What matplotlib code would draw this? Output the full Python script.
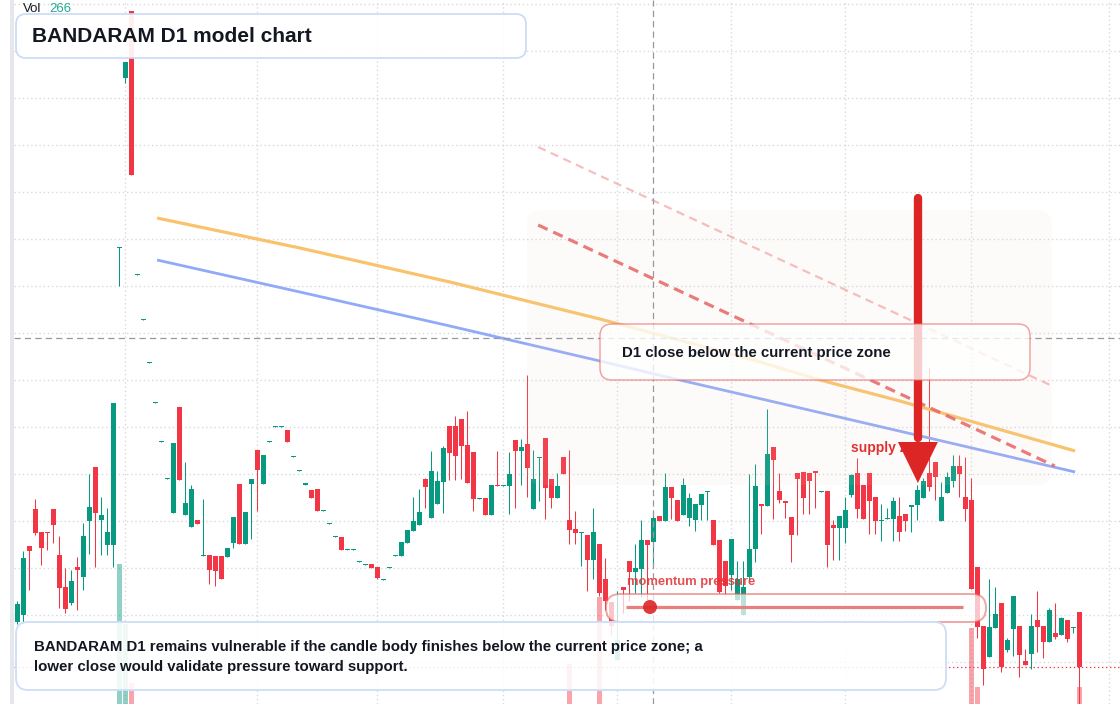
import matplotlib
matplotlib.use("Agg")
import matplotlib.pyplot as plt
import matplotlib.transforms as mtransforms
from matplotlib.patches import FancyBboxPatch, Polygon, Circle, Rectangle
from matplotlib.colors import to_rgba

plt.rcParams['font.family'] = ['Liberation Sans', 'DejaVu Sans']
plt.rcParams['lines.scale_dashes'] = False

W, H, DPI = 1120, 704, 100

# ---------------- data (price in chart points) ----------------
opens = [82, 89, 158, 195, 172, 172, 195, 149, 117, 101,
         137, 127, 183, 237, 184, 159, 159, 456, 626, 693,
         429, 384, 341, 301, 262, 225, 191, 297, 189, 177,
         184, 148, 149, 148, 148, 147, 161, 220, 160, 220,
         254, 220, 262, 277, 277, 274, 247, 233, 219, 214,
         215, 193, 180, 167, 167, 154, 154, 142, 139, 140,
         137, 124, 136, 148, 148, 161, 173, 179, 225, 186,
         200, 222, 278, 278, 285, 259, 252, 205, 206, 189,
         219, 218, 218, 264, 253, 260, 195, 246, 266, 225,
         206, 247, 184, 175, 171, 169, 144, 160, 125, 102,
         44, 117, 143, 132, 135, 164, 162, 188, 183, 217,
         204, 189, 186, 184, 199, 212, 184, 164, 143, 129,
         104, 89, 127, 155, 200, 198, 257, 213, 203, 187,
         231, 232, 231, 233, 212, 213, 179, 176, 176, 209,
         231, 219, 231, 207, 183, 185, 185, 188, 190, 197,
         199, 206, 231, 242, 183, 211, 223, 238, 207, 204,
         137, 78, 47, 76, 101, 54, 75, 78, 43, 50,
         84, 78, 62, 71, 69, 84, 76, 92]
highs = [103, 153, 158, 205, 172, 172, 195, 168, 136, 134,
         147, 181, 230, 237, 207, 196, 301, 457, 642, 693,
         430, 385, 342, 302, 263, 226, 261, 297, 242, 219,
         184, 205, 149, 148, 148, 156, 187, 220, 192, 225,
         254, 249, 263, 278, 278, 274, 248, 234, 221, 214,
         215, 194, 181, 168, 167, 155, 155, 143, 140, 140,
         137, 125, 137, 149, 162, 174, 207, 215, 226, 253,
         233, 258, 278, 288, 285, 293, 252, 206, 206, 219,
         253, 219, 252, 264, 265, 329, 254, 247, 266, 225,
         231, 247, 254, 193, 172, 169, 196, 160, 146, 102,
         113, 117, 143, 160, 184, 164, 194, 188, 231, 217,
         204, 226, 211, 200, 210, 213, 184, 164, 143, 165,
         143, 143, 230, 240, 200, 295, 257, 231, 203, 187,
         231, 232, 231, 233, 213, 213, 184, 188, 207, 230,
         246, 219, 231, 207, 200, 196, 207, 207, 190, 199,
         219, 226, 336, 242, 222, 232, 249, 249, 247, 226,
         137, 78, 125, 117, 101, 66, 108, 78, 55, 90,
         113, 78, 96, 101, 87, 84, 77, 92]
lows = [80, 81, 114, 169, 139, 154, 161, 96, 91, 99,
        94, 114, 150, 137, 149, 149, 137, 418, 621, 529,
        429, 384, 341, 301, 262, 225, 191, 224, 189, 177,
        180, 148, 120, 118, 125, 147, 156, 160, 160, 165,
        193, 220, 262, 277, 277, 262, 247, 233, 219, 206,
        193, 193, 180, 167, 154, 154, 154, 142, 139, 136,
        125, 124, 136, 148, 148, 161, 173, 179, 196, 186,
        200, 191, 224, 224, 225, 221, 193, 205, 189, 189,
        218, 218, 190, 196, 219, 207, 195, 203, 185, 196,
        206, 230, 160, 160, 138, 113, 125, 108, 94, 69,
        44, 91, 103, 111, 107, 104, 137, 183, 183, 185,
        183, 189, 178, 173, 184, 184, 159, 111, 109, 114,
        104, 89, 124, 142, 170, 198, 185, 201, 186, 142,
        169, 190, 190, 196, 212, 137, 144, 144, 161, 207,
        186, 185, 170, 170, 163, 185, 163, 163, 173, 172,
        184, 206, 213, 204, 183, 211, 217, 207, 183, 115,
        66, 19, 47, 76, 32, 52, 48, 27, 39, 35,
        52, 46, 62, 65, 69, 62, 71, 0]
closes = [100, 146, 153, 171, 156, 171, 179, 116, 95, 123,
          134, 168, 197, 191, 189, 172, 301, 457, 642, 529,
          430, 385, 342, 302, 263, 226, 261, 224, 201, 215,
          180, 149, 134, 133, 125, 156, 187, 160, 192, 225,
          234, 249, 263, 278, 278, 262, 248, 234, 221, 206,
          193, 194, 181, 168, 154, 155, 155, 143, 140, 136,
          126, 125, 137, 149, 162, 174, 183, 192, 217, 233,
          223, 256, 251, 248, 258, 221, 205, 206, 189, 219,
          218, 219, 230, 253, 257, 236, 225, 247, 216, 206,
          218, 230, 174, 171, 172, 144, 172, 111, 103, 78,
          64, 114, 132, 136, 164, 159, 186, 183, 217, 206,
          183, 219, 206, 200, 210, 213, 159, 112, 118, 165,
          125, 117, 155, 218, 198, 250, 244, 204, 201, 169,
          225, 206, 223, 231, 213, 159, 176, 188, 194, 229,
          195, 185, 203, 183, 184, 186, 203, 172, 183, 199,
          214, 223, 217, 227, 207, 227, 238, 230, 195, 115,
          77, 35, 77, 90, 37, 64, 108, 49, 39, 78,
          77, 62, 94, 67, 86, 65, 77, 37]

vol_index = [17, 18, 19, 92, 97, 159, 160, 177]
vol_value = [2190, 1250, 330, 625, 1675, 1190, 266, 266]
VOL_TOP = 11020

ma_fast_idx = [23.3, 47.1, 72.1, 97.1, 122.1, 133.8, 147.1, 176.3]
ma_fast_val = [486, 456, 422, 385, 345, 324, 303, 253]
ma_slow_idx = [23.3, 47.1, 72.1, 97.1, 110.4, 130.5, 176.3]
ma_slow_val = [444, 412, 378, 343, 324, 296, 232]

trend_outer_idx = [86.8, 172.5]
trend_outer_val = [557, 318]
trend_inner_idx = [86.8, 172.9]
trend_inner_val = [479, 238]

zone_idx = [84.95, 172.45]
zone_val = [219, 494]

arrow_idx = 150.1
arrow_from, arrow_neck, arrow_tip = 506, 262, 221

month_starts = [18, 40, 60, 81, 100, 119, 138, 159, 182]
price_grid = [42, 89, 136, 183, 230, 277, 324, 371, 418, 465, 512, 559, 606, 653, 700]
cross_idx, cross_price = 105.9, 366

GREEN, RED = '#089981', '#f23645'
DARK = '#131722'

# ---------------- figure ----------------
fig = plt.figure(figsize=(W / DPI, H / DPI), dpi=DPI)
fig.patch.set_facecolor('white')
ax = fig.add_axes([0, 0, 1, 1])
x0 = -17.3 / 6
ax.set_xlim(x0, x0 + W / 6)
ax.set_ylim(0, H)
ax.axis('off')

# pixel transform (top-left origin) for layout items
PX = mtransforms.Affine2D().scale(1, -1).translate(0, H).scale(1 / DPI) + fig.dpi_scale_trans

# grid
for g in price_grid:
    ax.plot([x0 + 14 / 6, x0 + W / 6], [g, g], color='#d6d9df', lw=1.0,
            dashes=(1.0, 2.0), zorder=0)
for m in month_starts:
    ax.plot([m, m], [0, H], color='#d6d9df', lw=1.0, dashes=(1.0, 2.0), zorder=0)

# volume
vol_tr = mtransforms.blended_transform_factory(
    ax.transData, mtransforms.Affine2D().scale(1, 1 / VOL_TOP) + ax.transAxes)
for i, v in zip(vol_index, vol_value):
    c = GREEN if closes[i] >= opens[i] else RED
    ax.add_patch(Rectangle((i - 0.42, 0), 0.84, v, transform=vol_tr,
                           facecolor=to_rgba(c, 0.45), edgecolor='none', zorder=1))

# candles
n = len(opens)
for i in range(n):
    o, h, l, c = opens[i], highs[i], lows[i], closes[i]
    col = GREEN if c >= o else RED
    ax.plot([i, i], [l, h], color=col, lw=0.75, zorder=2, solid_capstyle='butt')
    bot = min(o, c)
    ht = max(abs(c - o), 1.8)
    if abs(c - o) < 1.8:
        bot = (o + c) / 2 - 0.9
    ax.add_patch(Rectangle((i - 0.4, bot), 0.8, ht, facecolor=col,
                           edgecolor='none', zorder=2.5))

# moving averages
ax.plot(ma_fast_idx, ma_fast_val, color='#f8c36c', lw=2.3, zorder=3,
        solid_capstyle='butt')
ax.plot(ma_slow_idx, ma_slow_val, color='#91aaf7', lw=2.0, zorder=3,
        solid_capstyle='butt')

# supply zone (rounded, drawn in display space from data corners)
(zx0, zy0) = ax.transData.transform((zone_idx[0], zone_val[0]))
(zx1, zy1) = ax.transData.transform((zone_idx[1], zone_val[1]))
r = 15
ax.add_patch(FancyBboxPatch((zx0 + r, zy0 + r), zx1 - zx0 - 2 * r, zy1 - zy0 - 2 * r,
                            boxstyle=f"round,pad={r},rounding_size={r}",
                            transform=mtransforms.IdentityTransform(),
                            facecolor=to_rgba('#f3d9c0', 0.09), edgecolor='none',
                            zorder=3.5))

# trend lines
ax.plot(trend_outer_idx, trend_outer_val, color='#f08a8a', alpha=0.55, lw=1.6,
        dashes=(6, 4), zorder=4)
ax.plot(trend_inner_idx, trend_inner_val, color='#e86464', alpha=0.85, lw=2.3,
        dashes=(7.5, 4.5), zorder=4)

# crosshair + last price line
ax.plot([cross_idx, cross_idx], [0, H], color='#9598a1', lw=0.9, dashes=(4.5, 3),
        zorder=4.2)
ax.plot([x0 + 14 / 6, x0 + W / 6], [cross_price, cross_price], color='#9598a1',
        lw=0.9, dashes=(4.5, 3), zorder=4.2)
ax.plot([x0 + 14 / 6, x0 + W / 6], [closes[-1], closes[-1]], color=RED, lw=0.9,
        dashes=(1.0, 1.9), zorder=4.2)

# supply zone label
ax.text(851, 448, 'supply zone', transform=PX, fontsize=10, fontweight='bold',
        color='#e03131', va='center', ha='left', zorder=5)

# arrow
ax.plot([arrow_idx, arrow_idx], [arrow_from, arrow_neck + 4], color='#dc2626',
        lw=6.0, solid_capstyle='round', zorder=6)
half = 20 / 6
ax.add_patch(Polygon([(arrow_idx - half, arrow_neck), (arrow_idx + half, arrow_neck),
                      (arrow_idx, arrow_tip)], closed=True, facecolor='#dc2626',
                     edgecolor='none', zorder=6))


def rbox(x0p, y0p, x1p, y1p, rad, fc, ec, lw, z):
    p = FancyBboxPatch((x0p + rad, y0p + rad), x1p - x0p - 2 * rad, y1p - y0p - 2 * rad,
                       boxstyle=f"round,pad={rad},rounding_size={rad}",
                       transform=PX, facecolor=fc, edgecolor=ec, lw=lw, zorder=z)
    ax.add_patch(p)


# left border strip
ax.add_patch(Rectangle((10, 0), 4, H, transform=PX, facecolor='#e6e7ea',
                       edgecolor='none', zorder=1.5))

# callout box
rbox(600, 324, 1030, 380, 12, to_rgba('white', 0.78), to_rgba('#e66a6a', 0.6), 1.1, 7)
ax.text(622, 353, 'D1 close below the current price zone', transform=PX, fontsize=10.8,
        fontweight='bold', color=DARK, va='center', ha='left', zorder=8)

# momentum pill
ax.text(627, 582, 'momentum pressure', transform=PX, fontsize=9.4, fontweight='bold',
        color=to_rgba('#e03131', 0.85), va='center', ha='left', zorder=8)
rbox(606, 594, 986, 622, 14, to_rgba('white', 0.72), to_rgba('#e35d5d', 0.55), 1.4, 7)
ax.plot([626, 963], [607, 607], transform=PX, color='#e98080', lw=2.3, zorder=8,
        solid_capstyle='butt')
ax.add_patch(Circle((650, 607), 7, transform=PX, facecolor=to_rgba('#dc2626', 0.9),
                    edgecolor='none', zorder=8.5))

# bottom box
rbox(16, 622, 946, 690, 12, to_rgba('white', 0.88), '#cfe0f7', 1.4, 7)
ax.text(34, 647, 'BANDARAM D1 remains vulnerable if the candle body finishes below the current price zone; a',
        transform=PX, fontsize=10.8, fontweight='bold', color=DARK, va='center', ha='left', zorder=8)
ax.text(34, 667, 'lower close would validate pressure toward support.',
        transform=PX, fontsize=10.8, fontweight='bold', color=DARK, va='center', ha='left', zorder=8)

# title box
rbox(16, 14, 526, 58, 10, to_rgba('white', 0.92), '#c8daf5', 1.2, 7)
ax.text(32, 36, 'BANDARAM D1 model chart', transform=PX, fontsize=15, fontweight='bold',
        color=DARK, va='center', ha='left', zorder=8)

# volume legend
ax.text(23, 9, 'Vol', transform=PX, fontsize=9.5, color=DARK, va='center', ha='left', zorder=8)
ax.text(49, 9, f'{vol_value[-1]}', transform=PX, fontsize=9.5, color='#22ab94',
        va='center', ha='left', zorder=8)

fig.savefig('out.png', dpi=DPI, facecolor='white')
